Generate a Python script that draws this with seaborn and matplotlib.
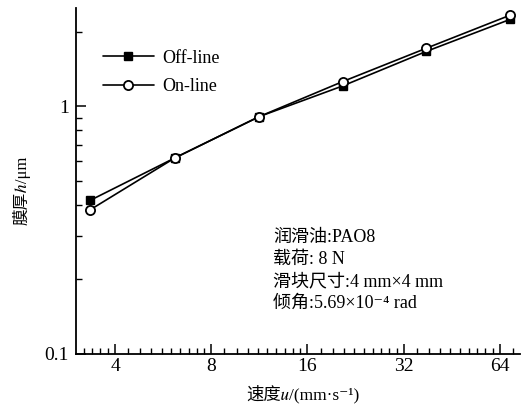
import numpy as np
import pandas as pd
import matplotlib
matplotlib.use('Agg')
import matplotlib.pyplot as plt
import seaborn as sns
from matplotlib.ticker import FixedLocator, FixedFormatter, NullFormatter, LogLocator

# ---- data ----
speed = [3.35, 6.16, 11.3, 20.6, 37.7, 69.0]
offline = [0.418, 0.62, 0.91, 1.21, 1.67, 2.25]
online = [0.383, 0.62, 0.91, 1.26, 1.72, 2.34]
series_names = ['Off-line', 'On-line']
x_ticks = [4, 8, 16, 32, 64]
x_tick_labels = ['4', '8', '16', '32', '64']
y_ticks = [0.1, 1]
y_tick_labels = ['0.1', '1']
notes = ['润滑油:PAO8', '载荷: 8 N', '滑块尺寸:4 mm×4 mm', '倾角:5.69×10⁻⁴ rad']
x_label = '速度\U0001D462/(mm·s⁻¹)'
y_label = '膜厚\u210E/μm'

sns.set_theme(style='ticks')
FAMILY = ['Liberation Serif', 'STIXGeneral', 'DejaVu Serif', 'Noto Sans CJK SC']
plt.rcParams['font.family'] = FAMILY
plt.rcParams['axes.edgecolor'] = 'black'
plt.rcParams['xtick.color'] = 'black'
plt.rcParams['ytick.color'] = 'black'
plt.rcParams['text.color'] = 'black'
plt.rcParams['axes.labelcolor'] = 'black'

fig = plt.figure(figsize=(5.32, 4.04), dpi=100)
fig.patch.set_facecolor('white')
ax = fig.add_axes([76 / 532, 1 - 354 / 404, 444 / 532, 346 / 404])

df = pd.DataFrame({
    'speed': speed + speed,
    'h': offline + online,
    'series': [series_names[0]] * len(speed) + [series_names[1]] * len(speed),
})

sns.lineplot(data=df[df.series == series_names[0]], x='speed', y='h', ax=ax,
             color='black', marker='s', markersize=5.6, markerfacecolor='black',
             markeredgecolor='black', markeredgewidth=1.0, linewidth=1.2,
             label=series_names[0])
sns.lineplot(data=df[df.series == series_names[1]], x='speed', y='h', ax=ax,
             color='black', marker='o', markersize=6.6, markerfacecolor='white',
             markeredgecolor='black', markeredgewidth=1.3, linewidth=1.2,
             label=series_names[1])

ax.set_xscale('log', base=2)
ax.set_yscale('log')
ax.set_xlim(3.02, 74)
ax.set_ylim(0.1, 2.5)

ax.xaxis.set_major_locator(FixedLocator(x_ticks))
ax.xaxis.set_major_formatter(FixedFormatter(x_tick_labels))
minor_x = [2 ** k + 2 ** k * i / 10 for k in range(1, 7) for i in range(1, 10)]
ax.xaxis.set_minor_locator(FixedLocator(minor_x))
ax.xaxis.set_minor_formatter(NullFormatter())

ax.yaxis.set_major_locator(FixedLocator(y_ticks))
ax.yaxis.set_major_formatter(FixedFormatter(y_tick_labels))
ax.yaxis.set_minor_locator(LogLocator(base=10, subs=range(2, 10)))
ax.yaxis.set_minor_formatter(NullFormatter())

ax.tick_params(axis='both', which='major', direction='in', length=7, width=1.1,
               labelsize=14)
ax.tick_params(axis='both', which='minor', direction='in', length=4.5, width=1.0)
ax.tick_params(axis='x', which='major', pad=3)
ax.tick_params(axis='y', which='major', pad=5)

for side in ['top', 'right']:
    ax.spines[side].set_visible(False)
for side in ['left', 'bottom']:
    ax.spines[side].set_linewidth(1.3)
    ax.spines[side].set_color('black')

ax.set_xlabel(x_label, fontsize=12.5)
ax.set_ylabel(y_label, fontsize=12)
ax.xaxis.set_label_coords(0.511, -0.116)
ax.xaxis.label.set_verticalalignment('center')
ax.yaxis.set_label_coords(-0.122, 0.474)
ax.yaxis.label.set_verticalalignment('center')

leg = ax.legend(frameon=False, loc='upper left', bbox_to_anchor=(0.061, 0.88),
                borderaxespad=0, borderpad=0, handlelength=2.8, handletextpad=0.45,
                labelspacing=0.65, fontsize=13)

for i, line in enumerate(notes):
    ax.text(0.444, 0.338 - i * 0.064, line, transform=ax.transAxes,
            fontsize=13, va='center', ha='left')

fig.savefig('out.png', dpi=100, facecolor='white')
